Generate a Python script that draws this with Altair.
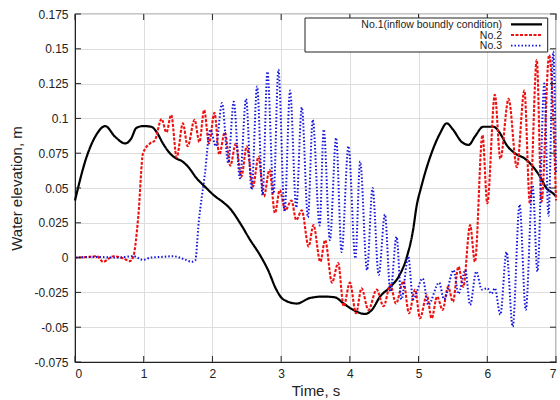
import altair as alt
import pandas as pd

names = ["No.1(inflow boundly condition)", "No.2", "No.3"]
colors = ["#000000", "#ee1111", "#1414dc"]
dashes = [[1, 0], [3, 1.5], [1.5, 2]]
widths = [2.2, 2.0, 1.6]

black_t = [0, 0.17, 0.32, 0.44, 0.58, 0.73, 0.82, 0.89, 0.99, 1.11,
           1.19, 1.28, 1.38, 1.48, 1.55, 1.65, 1.77, 1.89, 2.04, 2.15,
           2.26, 2.40, 2.55, 2.69, 2.81, 2.93, 3.03, 3.23, 3.42, 3.61,
           3.78, 3.91, 4.05, 4.22, 4.32, 4.44, 4.59, 4.71, 4.83, 4.92,
           4.97, 5.04, 5.17, 5.31, 5.41, 5.50, 5.63, 5.73, 5.82, 5.94,
           6.09, 6.19, 6.28, 6.40, 6.55, 6.67, 6.77, 6.86, 6.96, 7.0]
black_y = [0.041, 0.0725, 0.089, 0.0945, 0.087, 0.082, 0.0857, 0.093, 0.0945, 0.094,
           0.090, 0.082, 0.075, 0.071, 0.0695, 0.065, 0.057, 0.051, 0.044, 0.040,
           0.035, 0.025, 0.0126, 0.002, -0.009, -0.023, -0.030, -0.033, -0.029, -0.028,
           -0.0285, -0.033, -0.0376, -0.0405, -0.0376, -0.028, -0.021, -0.0137, 0.0006, 0.0198,
           0.0366, 0.051, 0.0725, 0.089, 0.0965, 0.092, 0.083, 0.081, 0.087, 0.094,
           0.094, 0.089, 0.081, 0.075, 0.071, 0.065, 0.058, 0.050, 0.046, 0.044]

red_t = [0, 0.2, 0.32, 0.41, 0.56, 0.70, 0.80, 0.85, 0.92, 0.99,
         1.09, 1.16, 1.26, 1.33, 1.40, 1.48, 1.57, 1.64, 1.74, 1.81,
         1.88, 1.95, 2.03, 2.10, 2.18, 2.26, 2.34, 2.42, 2.50, 2.59,
         2.67, 2.75, 2.83, 2.91, 2.98, 3.06, 3.15, 3.22, 3.30, 3.40,
         3.47, 3.57, 3.64, 3.74, 3.83, 3.91, 4.00, 4.09, 4.17, 4.27,
         4.39, 4.49, 4.59, 4.67, 4.78, 4.86, 4.95, 5.02, 5.12, 5.19,
         5.27, 5.35, 5.43, 5.50, 5.58, 5.65, 5.75, 5.82, 5.93, 6.00,
         6.11, 6.19, 6.31, 6.43, 6.54, 6.62, 6.72, 6.79, 6.90, 7.0]
red_y = [0, 0.0005, 0.001, -0.003, 0.001, -0.0005, -0.0025, 0.001, 0.029, 0.075,
         0.082, 0.084, 0.0996, 0.090, 0.1025, 0.072, 0.0965, 0.080, 0.099, 0.083,
         0.106, 0.082, 0.104, 0.074, 0.090, 0.066, 0.082, 0.058, 0.080, 0.051,
         0.0725, 0.044, 0.063, 0.032, 0.0485, 0.034, 0.041, 0.027, 0.034, 0.008,
         0.0234, -0.003, 0.0126, -0.018, -0.004, -0.035, -0.018, -0.040, -0.022, -0.0376,
         -0.023, -0.035, -0.0197, -0.033, -0.017, -0.040, -0.023, -0.0436, -0.027, -0.0436,
         -0.028, -0.0376, -0.021, -0.0317, -0.0065, -0.021, 0.0234, -0.003, 0.088, 0.039,
         0.117, 0.071, 0.114, 0.065, 0.120, 0.039, 0.142, 0.040, 0.1455, 0.041]

blue_t = [0, 0.3, 0.6, 0.85, 0.99, 1.1, 1.25, 1.43, 1.58, 1.70,
          1.75, 1.80, 1.89, 1.97, 2.05, 2.14, 2.23, 2.31, 2.40, 2.49,
          2.57, 2.65, 2.73, 2.80, 2.89, 2.96, 3.05, 3.13, 3.22, 3.30,
          3.39, 3.46, 3.56, 3.62, 3.71, 3.80, 3.88, 3.98, 4.08, 4.15,
          4.25, 4.33, 4.42, 4.51, 4.59, 4.68, 4.75, 4.85, 4.92, 5.06,
          5.14, 5.30, 5.37, 5.51, 5.58, 5.68, 5.75, 5.84, 5.92, 6.00,
          6.06, 6.11, 6.19, 6.28, 6.37, 6.47, 6.56, 6.66, 6.73, 6.83,
          6.89, 6.96, 7.0]
blue_y = [0, 0.0005, 0, 0.001, -0.0017, 0, 0.0005, 0.001, -0.001, -0.003,
          -0.002, 0.025, 0.060, 0.092, 0.080, 0.111, 0.068, 0.112, 0.057, 0.114,
          0.049, 0.123, 0.045, 0.1335, 0.046, 0.135, 0.033, 0.120, 0.036, 0.108,
          0.029, 0.099, 0.023, 0.092, 0.0126, 0.086, 0.004, 0.080, -0.0005, 0.069,
          -0.009, 0.050, -0.0125, 0.031, -0.0245, 0.015, -0.030, 0.0006, -0.030, -0.015,
          -0.034, -0.018, -0.030, -0.009, -0.026, -0.009, -0.034, -0.010, -0.023, -0.022,
          -0.026, -0.022, -0.041, 0.004, -0.0496, 0.038, -0.0376, 0.052, -0.010, 0.125,
          0.030, 0.148, 0.060]

x_ticks = [0, 1, 2, 3, 4, 5, 6, 7]
y_ticks = [-0.075, -0.05, -0.025, 0, 0.025, 0.05, 0.075, 0.1, 0.125, 0.15, 0.175]

rows = []
for name, ts, ys in zip(names, [black_t, red_t, blue_t], [black_y, red_y, blue_y]):
    for t, y in zip(ts, ys):
        rows.append({"series": name, "t": t, "y": y})
df = pd.DataFrame(rows)

FONT = "Liberation Sans"
x_scale = alt.Scale(domain=[0, 7], nice=False)
y_scale = alt.Scale(domain=[-0.075, 0.175], nice=False, zero=False)

x_axis = alt.Axis(values=x_ticks, format="d", labelPadding=6, titlePadding=4)
y_axis = alt.Axis(values=y_ticks, labelPadding=7, titlePadding=9,
                  labelExpr="replace(format(datum.value, '~g'), '\u2212', '-')")

lines = alt.Chart(df).mark_line(interpolate="monotone").encode(
    x=alt.X("t:Q", title="Time, s", scale=x_scale, axis=x_axis),
    y=alt.Y("y:Q", title="Water elevation, m", scale=y_scale, axis=y_axis),
    color=alt.Color("series:N", scale=alt.Scale(domain=names, range=colors), legend=None),
    strokeDash=alt.StrokeDash("series:N", scale=alt.Scale(domain=names, range=dashes), legend=None),
    strokeWidth=alt.StrokeWidth("series:N", scale=alt.Scale(domain=names, range=widths), legend=None),
)

# inward tick marks on all four sides, placed through the same scales
xt = pd.DataFrame({"t": x_ticks})
yt = pd.DataFrame({"y": y_ticks})
tick_style = dict(color="#222", strokeWidth=1)
ticks = [
    alt.Chart(xt).mark_rule(**tick_style).encode(
        x=alt.X("t:Q", title="Time, s", scale=x_scale, axis=x_axis), y=alt.value(348), y2=alt.value(342)),
    alt.Chart(xt).mark_rule(**tick_style).encode(
        x=alt.X("t:Q", title="Time, s", scale=x_scale, axis=x_axis), y=alt.value(0), y2=alt.value(6)),
    alt.Chart(yt).mark_rule(**tick_style).encode(
        y=alt.Y("y:Q", title="Water elevation, m", scale=y_scale, axis=y_axis), x=alt.value(0), x2=alt.value(6)),
    alt.Chart(yt).mark_rule(**tick_style).encode(
        y=alt.Y("y:Q", title="Water elevation, m", scale=y_scale, axis=y_axis), x=alt.value(481), x2=alt.value(475)),
]

one = alt.Data(values=[{}])

layers = [lines] + ticks
# legend box (decoration, drawn in pixel space of the plot area)
layers.append(alt.Chart(one).mark_rect(fill="white", stroke="#222", strokeWidth=1).encode(
    x=alt.value(230), x2=alt.value(472.7), y=alt.value(4), y2=alt.value(38)))
row_y = [10.4, 21.0, 31.6]
for name, col, dash, w, ry in zip(names, colors, dashes, widths, row_y):
    layers.append(alt.Chart(one).mark_rule(color=col, strokeDash=dash, strokeWidth=w).encode(
        x=alt.value(436), x2=alt.value(467), y=alt.value(ry)))
    layers.append(alt.Chart(one).mark_text(
        align="right", baseline="middle", font=FONT, fontSize=10.5, color="#222"
    ).encode(x=alt.value(427), y=alt.value(ry + 0.5), text=alt.value(name)))

chart = alt.layer(*layers).properties(
    width=481, height=348,
    autosize=alt.AutoSizeParams(type="none"),
    padding={"left": 75, "top": 14, "right": 4, "bottom": 38},
).configure_axis(
    grid=True, gridColor="#dddddd", gridWidth=1,
    domainColor="#222", ticks=False,
    labelFont=FONT, labelFontSize=12, labelColor="#222",
    titleFont=FONT, titleFontSize=15, titleFontWeight="normal", titleColor="#222",
).configure_view(stroke="#222", strokeWidth=1.2)

chart.save("out.html", embed_options={"renderer": "svg", "actions": False})
